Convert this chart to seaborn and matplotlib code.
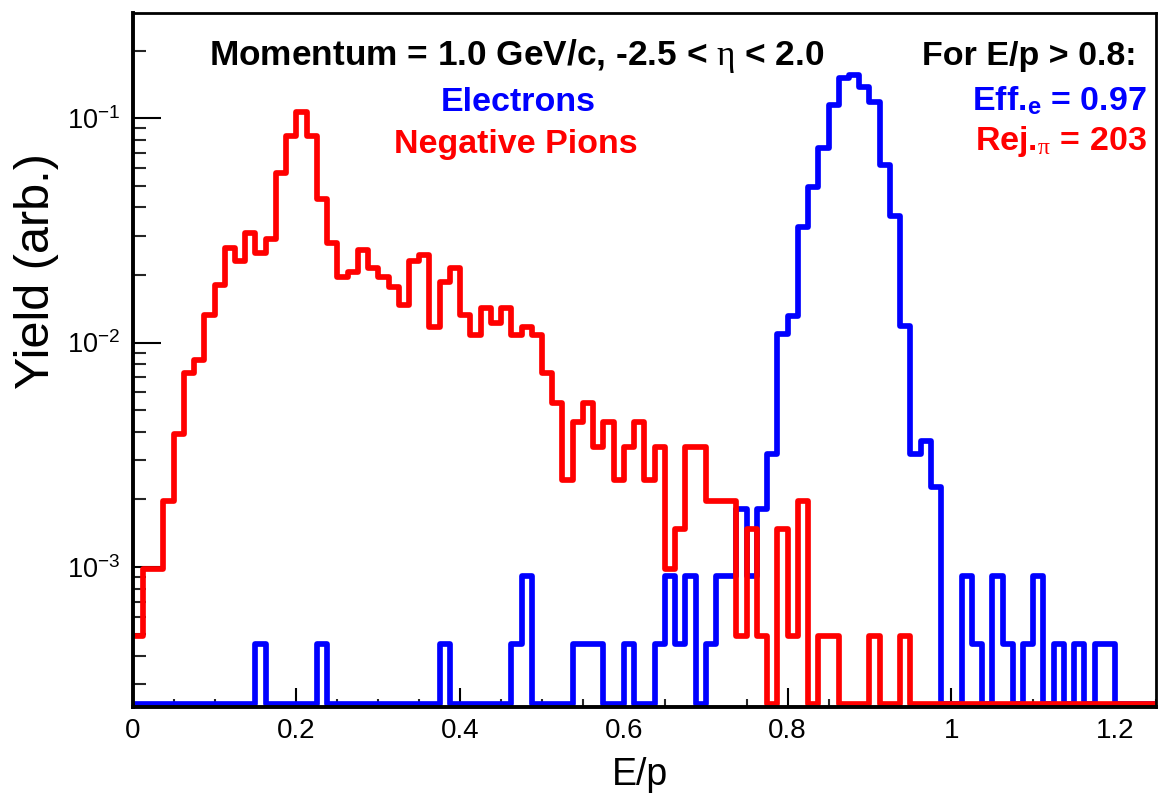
import numpy as np
import pandas as pd
import matplotlib
matplotlib.use("Agg")
import matplotlib.pyplot as plt
import seaborn as sns
from matplotlib.ticker import LogLocator, MultipleLocator, FuncFormatter, NullFormatter

# ---------------- data ----------------
# 100 bins of width 0.0125 over E/p in [0, 1.25]
bin_lo, bin_hi, n_bins = 0.0, 1.25, 100

electron_counts = [
    0, 0, 0, 0, 0, 0, 0, 0, 0, 0,
    0, 0, 1, 0, 0, 0, 0, 0, 1, 0,
    0, 0, 0, 0, 0, 0, 0, 0, 0, 0,
    1, 0, 0, 0, 0, 0, 0, 1, 2, 0,
    0, 0, 0, 1, 1, 1, 0, 0, 1, 0,
    0, 1, 2, 1, 2, 0, 1, 2, 2, 4,
    2, 4, 7, 24, 29, 72, 109, 163, 253, 333,
    342, 304, 261, 136, 81, 26, 7, 8, 5, 0,
    0, 2, 1, 0, 2, 1, 0, 1, 2, 0,
    1, 0, 1, 0, 1, 1, 0, 0, 0, 0,
]

pion_counts = [
    1, 2, 2, 4, 8, 15, 17, 27, 37, 54,
    47, 63, 51, 59, 116, 171, 218, 170, 89, 57,
    40, 42, 53, 44, 40, 36, 30, 47, 50, 24,
    38, 44, 27, 22, 29, 25, 29, 22, 24, 22,
    15, 11, 5, 9, 11, 7, 9, 5, 7, 9,
    5, 7, 2, 3, 7, 7, 4, 4, 4, 1,
    3, 1, 0, 3, 1, 4, 0, 1, 1, 0,
    0, 0, 1, 0, 0, 1, 0, 0, 0, 0,
    0, 0, 0, 0, 0, 0, 0, 0, 0, 0,
    0, 0, 0, 0, 0, 0, 0, 0, 0, 0,
]

x_label = "E/p"
y_label = "Yield (arb.)"
header_text = r"Momentum = 1.0 GeV/c, -2.5 < $\mathrm{\eta}$ < 2.0"
electron_label = "Electrons"
pion_label = "Negative Pions"
cut_text = "For E/p > 0.8:"
eff_text = r"Eff.$_{\mathbf{e}}$ = 0.97"
rej_text = r"Rej.$_{\mathrm{\pi}}$ = 203"
x_ticks = [0, 0.2, 0.4, 0.6, 0.8, 1.0, 1.2]
x_tick_labels = ["0", "0.2", "0.4", "0.6", "0.8", "1", "1.2"]

# ---------------- style ----------------
sns.set_theme(style="white")
plt.rcParams["font.family"] = ["Liberation Sans", "DejaVu Sans"]
plt.rcParams["mathtext.fontset"] = "custom"
plt.rcParams["mathtext.rm"] = "Liberation Serif"
plt.rcParams["mathtext.it"] = "Liberation Serif:italic"
plt.rcParams["mathtext.bf"] = "Liberation Sans:bold"
plt.rcParams["mathtext.sf"] = "Liberation Sans"

W, H = 1158, 796
fig = plt.figure(figsize=(W / 100, H / 100), dpi=100)
ax_l, ax_r, ax_t, ax_b = 132.7, 1156.0, 13.3, 707.0
ax = fig.add_axes([ax_l / W, 1 - ax_b / H, (ax_r - ax_l) / W, (ax_b - ax_t) / H])

edges = np.linspace(bin_lo, bin_hi, n_bins + 1)
centers = 0.5 * (edges[:-1] + edges[1:])
e_counts = np.asarray(electron_counts, float)
p_counts = np.asarray(pion_counts, float)
e_yield = e_counts / e_counts.sum()
p_yield = p_counts / p_counts.sum()

y_lo, y_hi = 2.37e-4, 0.2937
# empty bins are drawn just above the lower frame, as ROOT does on a log axis
floor = y_lo * 10 ** (3.5 / 224.3)
df_e = pd.DataFrame({"Ep": centers, "yield": np.where(e_yield > 0, e_yield, floor)})
df_p = pd.DataFrame({"Ep": centers, "yield": np.where(p_yield > 0, p_yield, floor)})

lw = 4.1
sns.histplot(data=df_e, x="Ep", weights="yield", bins=n_bins, binrange=(bin_lo, bin_hi),
             element="step", fill=False, color="#0000ff", linewidth=lw, ax=ax)
sns.histplot(data=df_p, x="Ep", weights="yield", bins=n_bins, binrange=(bin_lo, bin_hi),
             element="step", fill=False, color="#ff0000", linewidth=lw, ax=ax)

ax.set_yscale("log")
ax.set_xlim(bin_lo, bin_hi)
ax.set_ylim(y_lo, y_hi)
ax.set_xlabel("")
ax.set_ylabel("")

ax.set_xticks(x_ticks)
ax.set_xticklabels(x_tick_labels)
ax.xaxis.set_minor_locator(MultipleLocator(0.05))
ax.yaxis.set_major_locator(LogLocator(base=10, numticks=10))
ax.yaxis.set_minor_locator(LogLocator(base=10, subs=np.arange(2, 10), numticks=20))
ax.yaxis.set_major_formatter(FuncFormatter(lambda v, p: r"$\mathregular{10^{%d}}$" % int(round(np.log10(v)))))
ax.yaxis.set_minor_formatter(NullFormatter())

ax.tick_params(axis="x", which="major", direction="in", length=13.7, width=1.5,
               labelsize=20, pad=8, colors="black", top=False, bottom=True)
ax.tick_params(axis="x", which="minor", direction="in", length=5.8, width=1.5, top=False, bottom=True)
ax.tick_params(axis="y", which="major", direction="in", length=20, width=1.5,
               labelsize=19.5, pad=9, colors="black", right=False, left=True)
ax.tick_params(axis="y", which="minor", direction="in", length=9.4, width=1.5, right=False, left=True)

for side, sp in ax.spines.items():
    sp.set_visible(True)
    sp.set_color("black")
    sp.set_linewidth(2.8 if side in ("left", "bottom") else 2.0)
    sp.set_zorder(5)
ax.set_facecolor("white")
fig.patch.set_facecolor("white")

def ftxt(x, y, s, size=24.5, **kw):
    fig.text(x / W, 1 - y / H, s, va="baseline", fontweight="bold", fontsize=size, **kw)

ftxt(517, 65, header_text, size=25.4, ha="center", color="black")
ftxt(518, 111, electron_label, ha="center", color="#0000ff")
ftxt(516, 153, pion_label, ha="center", color="#ff0000")
ftxt(1137, 65, cut_text, ha="right", color="black")
ftxt(1147, 110, eff_text, ha="right", color="#0000ff")
ftxt(1147, 150, rej_text, ha="right", color="#ff0000")

fig.text(640 / W, 1 - 785 / H, x_label, ha="center", va="baseline", fontsize=27, color="black")
fig.text(37 / W, 1 - 271 / H, y_label, ha="center", va="center", rotation=90, fontsize=35, color="black")

fig.savefig("out.png", dpi=100, facecolor="white")
